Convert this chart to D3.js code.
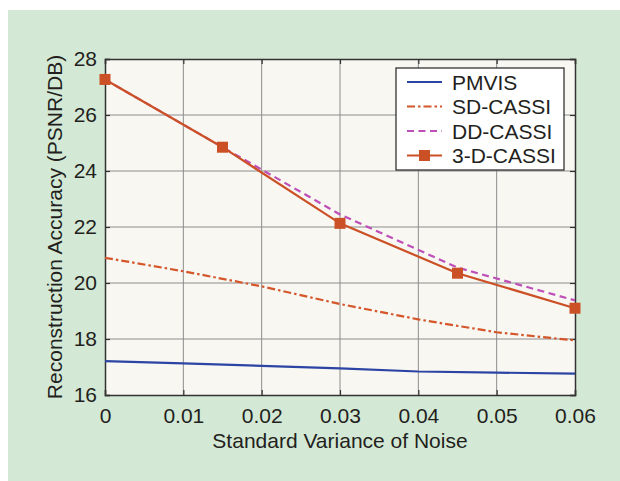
<!DOCTYPE html>
<html>
<head>
<meta charset="utf-8">
<script src="https://cdn.jsdelivr.net/npm/d3@7"></script>
<style>
  body { margin: 0; background: #fff; }
  svg { display: block; font-family: "Liberation Sans", Arial, sans-serif; }
</style>
</head>
<body>
<svg id="chart" width="620" height="481"></svg>
<script>
// Data
const xTicks = [0, 0.01, 0.02, 0.03, 0.04, 0.05, 0.06];
const yTicks = [16, 18, 20, 22, 24, 26, 28];

const pmvisX = [0, 0.01, 0.02, 0.03, 0.04, 0.05, 0.06];
const pmvisY = [17.21, 17.13, 17.04, 16.95, 16.84, 16.80, 16.76];

const sdX = [0, 0.01, 0.02, 0.03, 0.04, 0.05, 0.06];
const sdY = [20.9, 20.42, 19.88, 19.25, 18.7, 18.24, 17.95];

const ddX = [0, 0.015, 0.03, 0.045, 0.06];
const ddY = [27.27, 24.85, 22.45, 20.55, 19.38];

const cassiX = [0, 0.015, 0.03, 0.045, 0.06];
const cassiY = [27.27, 24.85, 22.13, 20.35, 19.1];

const seriesNames = ["PMVIS", "SD-CASSI", "DD-CASSI", "3-D-CASSI"];

// Layout
const margin = { left: 105, right: 45, top: 59, bottom: 86 };
const width = 620, height = 481;
const fontSize = 21;
const textColor = "#231f20";

const svg = d3.select("#chart");

// green panel
svg.append("rect")
  .attr("x", 8).attr("y", 10)
  .attr("width", width - 8).attr("height", height - 10)
  .attr("fill", "#d4e9d5");

const x = d3.scaleLinear().domain([0, 0.06]).range([margin.left, width - margin.right]);
const y = d3.scaleLinear().domain([16, 28]).range([height - margin.bottom, margin.top]);

// plot background
svg.append("rect")
  .attr("x", x(0)).attr("y", y(28))
  .attr("width", x(0.06) - x(0)).attr("height", y(16) - y(28))
  .attr("fill", "#f8f7f2");

// grid
svg.append("g").selectAll("line").data(xTicks.slice(1, -1)).enter().append("line")
  .attr("x1", d => x(d)).attr("x2", d => x(d))
  .attr("y1", y(16)).attr("y2", y(28))
  .attr("stroke", "#8c8c8c").attr("stroke-width", 1);
svg.append("g").selectAll("line").data(yTicks.slice(1, -1)).enter().append("line")
  .attr("y1", d => y(d)).attr("y2", d => y(d))
  .attr("x1", x(0)).attr("x2", x(0.06))
  .attr("stroke", "#8c8c8c").attr("stroke-width", 1);

// axes with inward ticks
const xAxis = svg.append("g")
  .attr("transform", `translate(0,${y(16)})`)
  .call(d3.axisBottom(x).tickValues(xTicks).tickSize(-5).tickPadding(13).tickFormat(d => d === 0 ? "0" : d3.format(".2f")(d)));
const xAxisTop = svg.append("g")
  .attr("transform", `translate(0,${y(28)})`)
  .call(d3.axisTop(x).tickValues(xTicks).tickSize(-5).tickFormat(""));
const yAxis = svg.append("g")
  .attr("transform", `translate(${x(0)},0)`)
  .call(d3.axisLeft(y).tickValues(yTicks).tickSize(-5).tickPadding(8));
const yAxisRight = svg.append("g")
  .attr("transform", `translate(${x(0.06)},0)`)
  .call(d3.axisRight(y).tickValues(yTicks).tickSize(-5).tickFormat(""));

[xAxis, xAxisTop, yAxis, yAxisRight].forEach(g => {
  g.select(".domain").attr("stroke", "#333").attr("stroke-width", 1.5);
  g.selectAll(".tick line").attr("stroke", "#333").attr("stroke-width", 1.2);
  g.selectAll("text").attr("font-size", fontSize).attr("fill", textColor)
    .attr("font-family", "'Liberation Sans', Arial, sans-serif");
});

// axis titles
svg.append("text")
  .attr("x", (x(0) + x(0.06)) / 2).attr("y", 448)
  .attr("text-anchor", "middle").attr("font-size", fontSize).attr("fill", textColor)
  .text("Standard Variance of Noise");
svg.append("text")
  .attr("transform", `translate(62,${(y(16) + y(28)) / 2}) rotate(-90)`)
  .attr("text-anchor", "middle").attr("font-size", fontSize).attr("fill", textColor)
  .text("Reconstruction Accuracy (PSNR/DB)");

// series
const line = d3.line().x(d => x(d[0])).y(d => y(d[1]));
const series = [
  { name: seriesNames[0], pts: d3.zip(pmvisX, pmvisY), color: "#2c44a3", dash: null },
  { name: seriesNames[1], pts: d3.zip(sdX, sdY), color: "#d4562a", dash: "8,3,2.5,3" },
  { name: seriesNames[2], pts: d3.zip(ddX, ddY), color: "#bf4fb8", dash: "7,4.5" },
  { name: seriesNames[3], pts: d3.zip(cassiX, cassiY), color: "#cc5026", dash: null, marker: true }
];

series.forEach(s => {
  svg.append("path")
    .attr("d", line(s.pts))
    .attr("fill", "none")
    .attr("stroke", s.color)
    .attr("stroke-width", 2.2)
    .attr("stroke-dasharray", s.dash);
});

// markers for 3-D-CASSI
svg.append("g").selectAll("rect").data(d3.zip(cassiX, cassiY)).enter().append("rect")
  .attr("x", d => x(d[0]) - 5.5).attr("y", d => y(d[1]) - 5.5)
  .attr("width", 11).attr("height", 11)
  .attr("fill", "#cc5026");

// legend
const lg = svg.append("g").attr("transform", "translate(396,68)");
lg.append("rect")
  .attr("width", 168).attr("height", 102)
  .attr("fill", "#fff").attr("stroke", "#222").attr("stroke-width", 1.2);
series.forEach((s, i) => {
  const cy = 14 + i * 24.5;
  lg.append("line")
    .attr("x1", 11).attr("x2", 46).attr("y1", cy).attr("y2", cy)
    .attr("stroke", s.color).attr("stroke-width", 2.2)
    .attr("stroke-dasharray", s.dash);
  if (s.marker) {
    lg.append("rect").attr("x", 23).attr("y", cy - 5.5).attr("width", 11).attr("height", 11)
      .attr("fill", s.color);
  }
  lg.append("text")
    .attr("x", 56).attr("y", cy + 7.5)
    .attr("font-size", fontSize).attr("fill", textColor)
    .text(s.name);
});
</script>
</body>
</html>
